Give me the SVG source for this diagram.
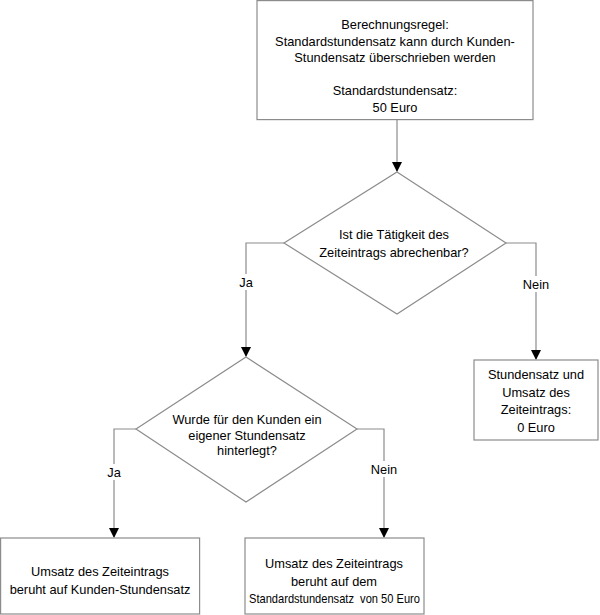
<svg xmlns="http://www.w3.org/2000/svg" width="600" height="615" viewBox="0 0 600 615">
<defs>
<marker id="arr" markerWidth="10" markerHeight="12" refX="9" refY="6" orient="auto" markerUnits="userSpaceOnUse">
<path d="M0,1 L10,6 L0,11 Z" fill="#000"/>
</marker>
<style>
.shape{fill:#fff;stroke:#8c8c8c;stroke-width:1.2}
.con{fill:none;stroke:#8c8c8c;stroke-width:1.2}
text{font-family:"Liberation Sans",Arial,sans-serif;font-size:12.8px;fill:#000;text-anchor:middle}
.lbl{fill:#fff;stroke:none}
</style>
</defs>
<rect width="600" height="615" fill="#fff"/>
<g id="connectors">
<path class="con" d="M397,120 V171" marker-end="url(#arr)"/>
<path class="con" d="M284,243 H246 V356" marker-end="url(#arr)"/>
<path class="con" d="M506,243 H536 V359" marker-end="url(#arr)"/>
<path class="con" d="M136,429 H114 V537" marker-end="url(#arr)"/>
<path class="con" d="M357,429 H384 V537" marker-end="url(#arr)"/>
<rect class="lbl" x="238" y="274" width="16" height="16"/>
<text x="246" y="287">Ja</text>
<rect class="lbl" x="521" y="276" width="30" height="16"/>
<text x="536" y="289">Nein</text>
<rect class="lbl" x="106" y="464" width="16" height="16"/>
<text x="114" y="477">Ja</text>
<rect class="lbl" x="369" y="461" width="30" height="16"/>
<text x="384" y="474">Nein</text>
</g>
<g id="start">
<rect class="shape" x="257" y="0.6" width="276" height="119"/>
<text x="395" y="29">Berechnungsregel:</text>
<text x="395" y="46">Standardstundensatz kann durch Kunden-</text>
<text x="395" y="62">Stundensatz überschrieben werden</text>
<text x="395" y="95">Standardstundensatz:</text>
<text x="395" y="112">50 Euro</text>
</g>
<g id="decision1">
<path class="shape" d="M397,172 L506,243 L397,314 L284,243 Z"/>
<text x="394" y="239">Ist die Tätigkeit des</text>
<text x="394" y="257">Zeiteintrags abrechenbar?</text>
</g>
<g id="zero">
<rect class="shape" x="474" y="360" width="124" height="80"/>
<text x="536" y="379">Stundensatz und</text>
<text x="536" y="397">Umsatz des</text>
<text x="536" y="414">Zeiteintrags:</text>
<text x="536" y="432">0 Euro</text>
</g>
<g id="decision2">
<path class="shape" d="M246,357 L357,429 L246,502 L136,429 Z"/>
<text x="247" y="424">Wurde für den Kunden ein</text>
<text x="247" y="440">eigener Stundensatz</text>
<text x="247" y="455">hinterlegt?</text>
</g>
<g id="customer">
<rect class="shape" x="0.6" y="538" width="199" height="76"/>
<text x="100" y="576">Umsatz des Zeiteintrags</text>
<text x="100" y="594">beruht auf Kunden-Stundensatz</text>
</g>
<g id="standard">
<rect class="shape" x="245" y="538" width="179" height="76"/>
<text x="334" y="568">Umsatz des Zeiteintrags</text>
<text x="334" y="586">beruht auf dem</text>
<text x="334.5" y="603" textLength="171" lengthAdjust="spacingAndGlyphs">Standardstundensatz&#160; von 50 Euro</text>
</g>
</svg>
